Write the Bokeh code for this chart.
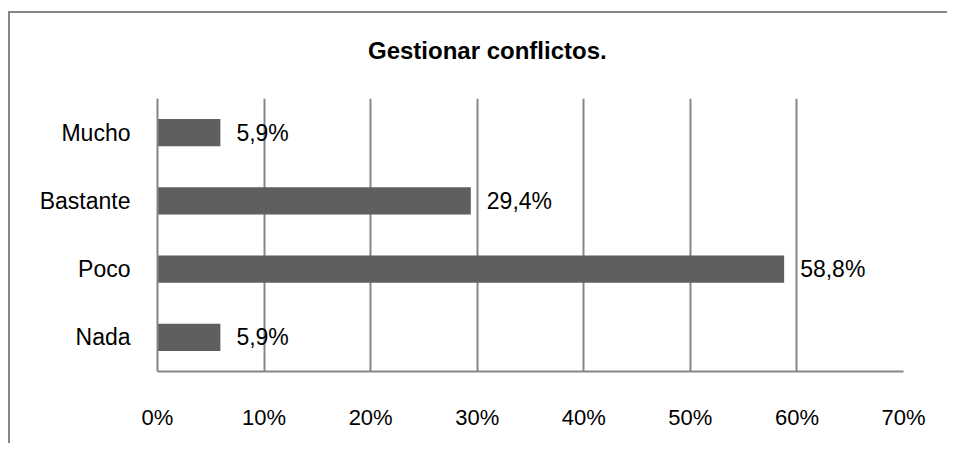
from bokeh.plotting import figure
from bokeh.models import Range1d, FactorRange, FixedTicker, ColumnDataSource, LabelSet, Div
from bokeh.layouts import column
from bokeh.core.properties import value
from bokeh.embed import file_html
from bokeh.resources import INLINE

categories = ["Nada", "Poco", "Bastante", "Mucho"]
values = [5.9, 58.8, 29.4, 5.9]
x_ticks = [0, 10, 20, 30, 40, 50, 60, 70]
tick_labels = ["0%", "10%", "20%", "30%", "40%", "50%", "60%", "70%"]
title_text = "Gestionar conflictos."

labels = [f"{v:.1f}".replace(".", ",") + "%" for v in values]
src = ColumnDataSource(dict(cat=categories, val=values, lab=labels))

FONT = "Liberation Sans"
GRID = "#868686"

title = Div(text=title_text, width=937, height=60, margin=(0, 0, 0, 0),
            styles={"font-family": FONT, "font-size": "24px", "font-weight": "bold",
                    "color": "#000000", "padding-top": "24px", "padding-left": "358px",
                    "box-sizing": "border-box", "line-height": "normal"})

p = figure(width=937, height=370, output_backend="svg", toolbar_location=None,
           x_range=Range1d(0, 70), y_range=FactorRange(*categories, range_padding=0),
           min_border_left=147, min_border_right=44, min_border_top=25, min_border_bottom=72,
           margin=(0, 0, 0, 0))

p.hbar(y="cat", right="val", left=0, height=0.4, source=src,
       fill_color="#5f5f5f", line_color=None)

p.add_layout(LabelSet(x="val", y="cat", text="lab", source=src, x_offset=16,
                      text_baseline="middle", text_align="left",
                      text_font=value(FONT), text_font_size="23px", text_color="#000000"))

p.outline_line_color = None
p.background_fill_color = "white"
p.border_fill_color = "white"

p.xaxis.ticker = FixedTicker(ticks=x_ticks)
p.xaxis.major_label_overrides = {t: l for t, l in zip(x_ticks, tick_labels)}
for ax in (p.xaxis[0], p.yaxis[0]):
    ax.axis_line_color = GRID
    ax.axis_line_width = 2
    ax.major_tick_line_color = None
    ax.minor_tick_line_color = None
    ax.major_label_text_font = FONT
    ax.major_label_text_font_size = "23px"
    ax.major_label_text_color = "#000000"
p.xaxis.major_label_text_font_size = "22px"
p.xaxis.major_label_standoff = 27
p.yaxis.major_label_standoff = 21

p.xgrid.ticker = FixedTicker(ticks=x_ticks)
p.xgrid.grid_line_color = GRID
p.xgrid.grid_line_width = 2
p.ygrid.grid_line_color = None

layout = column(title, p, spacing=0,
                styles={"border-left": "2px solid #868686", "border-top": "2px solid #868686",
                        "margin-top": "11px", "margin-left": "8px"})

open("out.html", "w").write(file_html(layout, INLINE))
